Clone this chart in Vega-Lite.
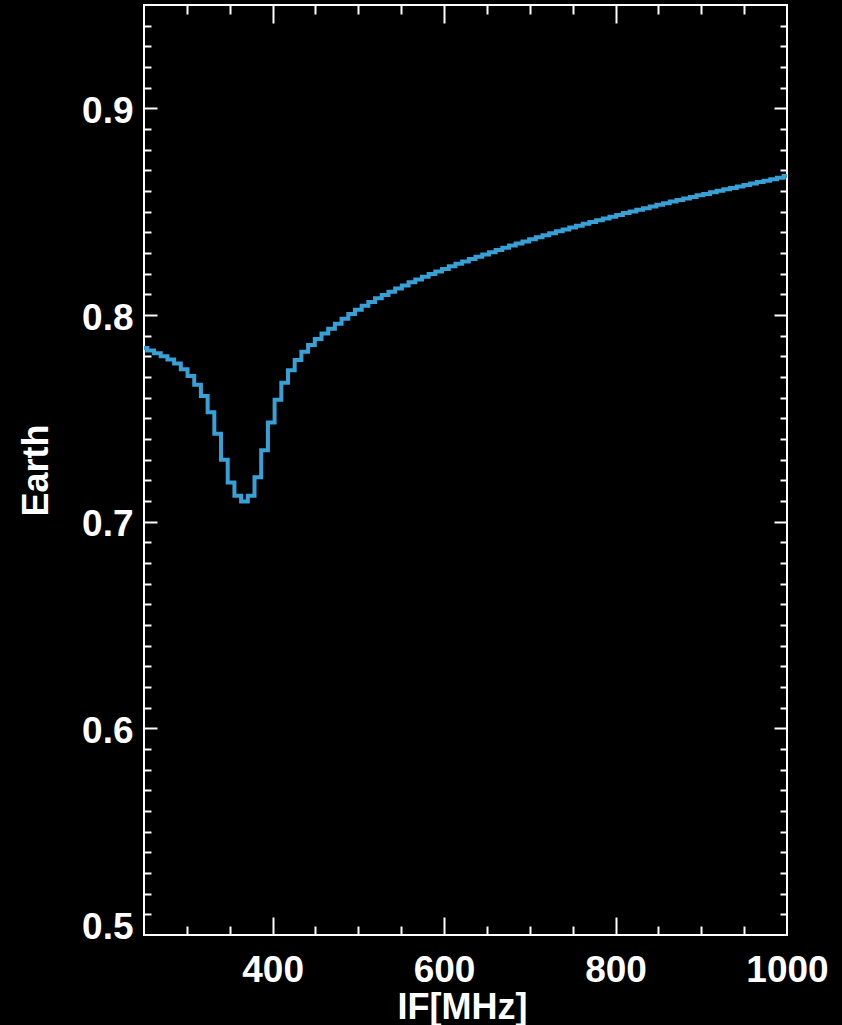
{
  "$schema": "https://vega.github.io/schema/vega-lite/v6.json",
  "width": 643,
  "height": 930,
  "autosize": "none",
  "padding": {"left": 144, "top": 5, "right": 55, "bottom": 90},
  "background": "#000000",
  "config": {
    "view": {"stroke": "#ffffff", "strokeWidth": 2},
    "axis": {
      "domain": false,
      "grid": false,
      "tickColor": "#ffffff",
      "tickWidth": 2,
      "labelColor": "#ffffff",
      "titleColor": "#ffffff",
      "labelFont": "Liberation Sans",
      "titleFont": "Liberation Sans",
      "labelFontWeight": "bold",
      "titleFontWeight": "bold",
      "labelFontSize": 37,
      "titleFontSize": 36
    }
  },
  "data": {
    "values": [
      {"f": 250, "v": 0.784},
      {"f": 257.8125, "v": 0.7828},
      {"f": 265.625, "v": 0.7815},
      {"f": 273.4375, "v": 0.78},
      {"f": 281.25, "v": 0.7785},
      {"f": 289.0625, "v": 0.7765},
      {"f": 296.875, "v": 0.7738},
      {"f": 304.6875, "v": 0.7705},
      {"f": 312.5, "v": 0.7663},
      {"f": 320.3125, "v": 0.7608},
      {"f": 328.125, "v": 0.753},
      {"f": 335.9375, "v": 0.7425},
      {"f": 343.75, "v": 0.73},
      {"f": 351.5625, "v": 0.719},
      {"f": 359.375, "v": 0.7125},
      {"f": 367.1875, "v": 0.7097},
      {"f": 375, "v": 0.7125},
      {"f": 382.8125, "v": 0.7215},
      {"f": 390.625, "v": 0.7345},
      {"f": 398.4375, "v": 0.748},
      {"f": 406.25, "v": 0.759},
      {"f": 414.0625, "v": 0.7672},
      {"f": 421.875, "v": 0.7733},
      {"f": 429.6875, "v": 0.7782},
      {"f": 437.5, "v": 0.7822},
      {"f": 445.3125, "v": 0.7855},
      {"f": 453.125, "v": 0.7884},
      {"f": 460.9375, "v": 0.791},
      {"f": 468.75, "v": 0.7934},
      {"f": 476.5625, "v": 0.7958},
      {"f": 484.375, "v": 0.7982},
      {"f": 492.1875, "v": 0.8005},
      {"f": 500, "v": 0.8025},
      {"f": 507.8125, "v": 0.8045},
      {"f": 515.625, "v": 0.8063},
      {"f": 523.4375, "v": 0.8081},
      {"f": 531.25, "v": 0.8097},
      {"f": 539.0625, "v": 0.8113},
      {"f": 546.875, "v": 0.8128},
      {"f": 554.6875, "v": 0.8143},
      {"f": 562.5, "v": 0.8158},
      {"f": 570.3125, "v": 0.8172},
      {"f": 578.125, "v": 0.8185},
      {"f": 585.9375, "v": 0.8198},
      {"f": 593.75, "v": 0.8211},
      {"f": 601.5625, "v": 0.8223},
      {"f": 609.375, "v": 0.8236},
      {"f": 617.1875, "v": 0.8248},
      {"f": 625, "v": 0.8259},
      {"f": 632.8125, "v": 0.8271},
      {"f": 640.625, "v": 0.8282},
      {"f": 648.4375, "v": 0.8293},
      {"f": 656.25, "v": 0.8304},
      {"f": 664.0625, "v": 0.8315},
      {"f": 671.875, "v": 0.8326},
      {"f": 679.6875, "v": 0.8336},
      {"f": 687.5, "v": 0.8346},
      {"f": 695.3125, "v": 0.8356},
      {"f": 703.125, "v": 0.8366},
      {"f": 710.9375, "v": 0.8376},
      {"f": 718.75, "v": 0.8386},
      {"f": 726.5625, "v": 0.8395},
      {"f": 734.375, "v": 0.8405},
      {"f": 742.1875, "v": 0.8414},
      {"f": 750, "v": 0.8423},
      {"f": 757.8125, "v": 0.8432},
      {"f": 765.625, "v": 0.8441},
      {"f": 773.4375, "v": 0.845},
      {"f": 781.25, "v": 0.8459},
      {"f": 789.0625, "v": 0.8467},
      {"f": 796.875, "v": 0.8476},
      {"f": 804.6875, "v": 0.8484},
      {"f": 812.5, "v": 0.8493},
      {"f": 820.3125, "v": 0.8501},
      {"f": 828.125, "v": 0.8509},
      {"f": 835.9375, "v": 0.8517},
      {"f": 843.75, "v": 0.8525},
      {"f": 851.5625, "v": 0.8533},
      {"f": 859.375, "v": 0.8541},
      {"f": 867.1875, "v": 0.8549},
      {"f": 875, "v": 0.8556},
      {"f": 882.8125, "v": 0.8564},
      {"f": 890.625, "v": 0.8571},
      {"f": 898.4375, "v": 0.8579},
      {"f": 906.25, "v": 0.8586},
      {"f": 914.0625, "v": 0.8594},
      {"f": 921.875, "v": 0.8601},
      {"f": 929.6875, "v": 0.8608},
      {"f": 937.5, "v": 0.8615},
      {"f": 945.3125, "v": 0.8622},
      {"f": 953.125, "v": 0.8629},
      {"f": 960.9375, "v": 0.8636},
      {"f": 968.75, "v": 0.8643},
      {"f": 976.5625, "v": 0.865},
      {"f": 984.375, "v": 0.8657},
      {"f": 992.1875, "v": 0.8664},
      {"f": 1000, "v": 0.8672}
    ]
  },
  "layer": [
    {
      "mark": {"type": "line", "opacity": 0},
      "encoding": {
        "x": {"field": "f", "type": "quantitative", "scale": {"domain": [250, 1000], "nice": false, "zero": false},
              "axis": {"orient": "bottom", "values": [400, 600, 800], "labels": false, "tickSize": -18, "title": null}},
        "y": {"field": "v", "type": "quantitative", "scale": {"domain": [0.5, 0.95], "nice": false, "zero": false},
              "axis": {"orient": "left", "values": [0.6, 0.7, 0.8, 0.9], "labels": false, "tickSize": -13, "title": null}}
      }
    },
    {
      "mark": {"type": "line", "opacity": 0},
      "encoding": {
        "x": {"field": "f", "type": "quantitative",
              "axis": {"orient": "bottom", "values": [300, 350, 450, 500, 550, 650, 700, 750, 850, 900, 950], "labels": false, "tickSize": -9, "title": null}},
        "y": {"field": "v", "type": "quantitative",
              "axis": {"orient": "left", "values": [0.51, 0.52, 0.53, 0.54, 0.55, 0.56, 0.57, 0.58, 0.59, 0.61, 0.62, 0.63, 0.64, 0.65, 0.66, 0.67, 0.68, 0.69, 0.71, 0.72, 0.73, 0.74, 0.75, 0.76, 0.77, 0.78, 0.79, 0.81, 0.82, 0.83, 0.84, 0.85, 0.86, 0.87, 0.88, 0.89, 0.91, 0.92, 0.93, 0.94], "labels": false, "tickSize": -7, "title": null}}
      }
    },
    {
      "mark": {"type": "line", "opacity": 0},
      "encoding": {
        "x": {"field": "f", "type": "quantitative",
              "axis": {"orient": "top", "values": [400, 600, 800], "labels": false, "tickSize": -18, "title": null}},
        "y": {"field": "v", "type": "quantitative",
              "axis": {"orient": "right", "values": [0.6, 0.7, 0.8, 0.9], "labels": false, "tickSize": -13, "title": null}}
      }
    },
    {
      "mark": {"type": "line", "opacity": 0},
      "encoding": {
        "x": {"field": "f", "type": "quantitative",
              "axis": {"orient": "top", "values": [300, 350, 450, 500, 550, 650, 700, 750, 850, 900, 950], "labels": false, "tickSize": -9, "title": null}},
        "y": {"field": "v", "type": "quantitative",
              "axis": {"orient": "right", "values": [0.51, 0.52, 0.53, 0.54, 0.55, 0.56, 0.57, 0.58, 0.59, 0.61, 0.62, 0.63, 0.64, 0.65, 0.66, 0.67, 0.68, 0.69, 0.71, 0.72, 0.73, 0.74, 0.75, 0.76, 0.77, 0.78, 0.79, 0.81, 0.82, 0.83, 0.84, 0.85, 0.86, 0.87, 0.88, 0.89, 0.91, 0.92, 0.93, 0.94], "labels": false, "tickSize": -7, "title": null}}
      }
    },
    {
      "mark": {"type": "line", "interpolate": "step", "color": "#37a0d5", "strokeWidth": 4},
      "encoding": {
        "x": {"field": "f", "type": "quantitative",
              "axis": {"orient": "bottom", "values": [400, 600, 800, 1000], "format": "d", "ticks": false, "labelPadding": 46, "labelBaseline": "alphabetic", "labelFlush": false,
                       "title": "IF[MHz]", "titleX": 318, "titleY": 83, "titleBaseline": "alphabetic", "titleAlign": "center"}},
        "y": {"field": "v", "type": "quantitative",
              "axis": {"orient": "left", "values": [0.5, 0.6, 0.7, 0.8, 0.9], "ticks": false, "labelPadding": 11, "labelAlign": "right", "labelBaseline": "alphabetic",
                       "labelOffset": {"condition": {"test": "datum.value < 0.55", "value": 3}, "value": 14},
                       "labelFlush": false, "format": ".1f",
                       "title": "Earth", "titleAngle": -90, "titleX": -97, "titleY": 465, "titleBaseline": "alphabetic", "titleAlign": "center"}}
      }
    }
  ],
  "resolve": {"axis": {"x": "independent", "y": "independent"}}
}
